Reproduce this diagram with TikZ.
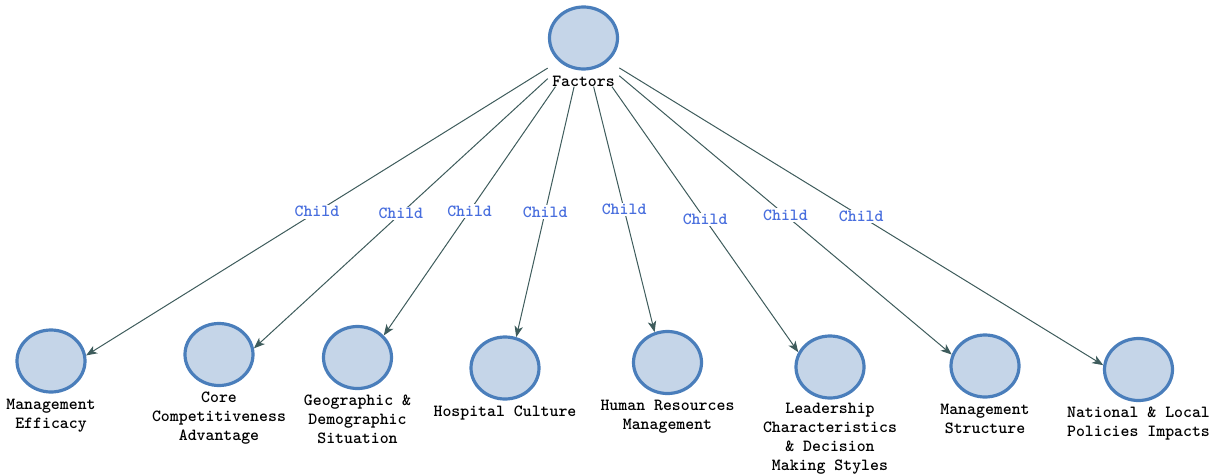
\documentclass[tikz,border=0pt]{standalone}
\usepackage{fontspec}
\usetikzlibrary{shapes,arrows.meta,positioning,fit}
\definecolor{nodeblue}{RGB}{74,126,187}
\definecolor{nodefill}{RGB}{197,213,232}
\definecolor{edgegray}{RGB}{62,92,92}
\definecolor{childblue}{RGB}{72,110,222}

\begin{document}
\begin{tikzpicture}[x=1pt,y=-1pt,
    factor/.style={ellipse, draw=nodeblue, fill=nodefill, line width=3.2pt,
      minimum width=68pt, minimum height=62pt, inner sep=0pt},
    caption/.style={font=\ttfamily\bfseries\fontsize{17}{19}\selectfont, align=center, inner sep=0pt},
    childlbl/.style={font=\ttfamily\bfseries\fontsize{17}{19}\selectfont, text=childblue, fill=white, inner sep=1.5pt},
    link/.style={draw=edgegray, line width=1pt, -{Stealth[length=11pt,width=8.5pt,inset=3pt]}}]
  \useasboundingbox (0,0) rectangle (1215,476);

  % root
  \node[factor] (root) at (583.5,38) {};
  \node[caption, below=5pt of root] (rootlbl) {Factors};
  \node[inner sep=0pt, fit=(root)(rootlbl)] (parent) {};

  % children
  \node[factor] (eff) at (51,361) {};
  \node[caption, below=5pt of eff] {Management\\Efficacy};
  \node[factor] (core) at (219,354.5) {};
  \node[caption, below=5pt of core] {Core\\Competitiveness\\Advantage};
  \node[factor] (geo) at (357.5,357.5) {};
  \node[caption, below=5pt of geo] {Geographic \&\\Demographic\\Situation};
  \node[factor] (cult) at (505,368) {};
  \node[caption, below=5pt of cult] {Hospital Culture};
  \node[factor] (hrm) at (667.5,362.5) {};
  \node[caption, below=5pt of hrm] {Human Resources\\Management};
  \node[factor] (lead) at (830,367) {};
  \node[caption, below=3pt of lead] {Leadership\\Characteristics\\\& Decision\\Making Styles};
  \node[factor] (struct) at (985,366) {};
  \node[caption, below=5pt of struct] {Management\\Structure};
  \node[factor] (policy) at (1138.5,369.5) {};
  \node[caption, below=5pt of policy] {National \& Local\\Policies Impacts};

  % edges, each aimed at the point where the reference arrow meets its circle
  \foreach \c/\a in {eff/9,core/10,geo/40,cult/70,hrm/113,lead/155,struct/161,policy/173}
    \draw[link] (parent) -- node[childlbl] {Child} (\c.\a);
\end{tikzpicture}
\end{document}
